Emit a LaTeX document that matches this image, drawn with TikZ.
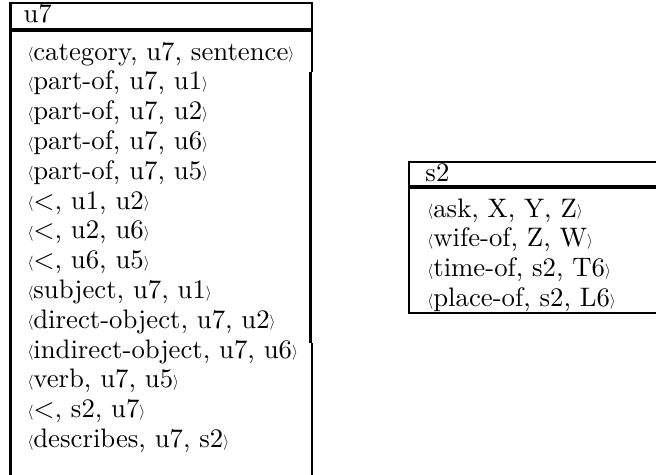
\documentclass[tikz,border=0pt]{standalone}
\usepackage{graphicx}
\newcommand\lang{\raisebox{0.5pt}{\scalebox{0.55}{$\langle$}}}
\newcommand\rang{\raisebox{0.5pt}{\scalebox{0.55}{$\rangle$}}}
\begin{document}
\begin{tikzpicture}[x=0.4pt,y=-0.4pt,
  frame/.style={line width=0.85pt},
  sepline/.style={line width=1.6pt},
  entry/.style={anchor=base west, inner sep=0pt, font=\fontsize{10.7}{12}\selectfont}]
\useasboundingbox (0,0) rectangle (656,475);
% u7 frame
\draw[frame] (10.5,476) -- (10.5,3) -- (312,3) -- (312,72);
\draw[frame] (310.5,72) -- (310.5,343);
\draw[frame] (311.8,343) -- (311.8,476);
\draw[sepline] (10.5,30) -- (312.4,30);
% s2 frame
\draw[frame] (657,162) -- (409,162) -- (409,313) -- (657,313);
\draw[sepline] (409,187) -- (657,187);
% u7 texts
\node[entry] (u7h) at (23,22) {u7};
\node[entry] (a1) at (27,60.0) {\lang category, u7, sentence\rang};
\node[entry] (a2) at (27,89.8) {\lang part-of, u7, u1\rang};
\node[entry] (a3) at (27,119.6) {\lang part-of, u7, u2\rang};
\node[entry] (a4) at (27,149.4) {\lang part-of, u7, u6\rang};
\node[entry] (a5) at (27,179.2) {\lang part-of, u7, u5\rang};
\node[entry] (a6) at (27,209.0) {\lang$<$, u1, u2\rang};
\node[entry] (a7) at (27,238.8) {\lang$<$, u2, u6\rang};
\node[entry] (a8) at (27,268.6) {\lang$<$, u6, u5\rang};
\node[entry] (a9) at (27,298.4) {\lang subject, u7, u1\rang};
\node[entry] (a10) at (27,328.2) {\lang direct-object, u7, u2\rang};
\node[entry] (a11) at (27,358.0) {\lang indirect-object, u7, u6\rang};
\node[entry] (a12) at (27,387.8) {\lang verb, u7, u5\rang};
\node[entry] (a13) at (27,417.6) {\lang$<$, s2, u7\rang};
\node[entry] (a14) at (27,447.4) {\lang describes, u7, s2\rang};
% s2 texts
\node[entry] (s2h) at (425,181) {s2};
\node[entry] (b1) at (427,217.0) {\lang ask, X, Y, Z\rang};
\node[entry] (b2) at (427,246.8) {\lang wife-of, Z, W\rang};
\node[entry] (b3) at (427,276.6) {\lang time-of, s2, T6\rang};
\node[entry] (b4) at (427,306.4) {\lang place-of, s2, L6\rang};
\end{tikzpicture}
\end{document}
